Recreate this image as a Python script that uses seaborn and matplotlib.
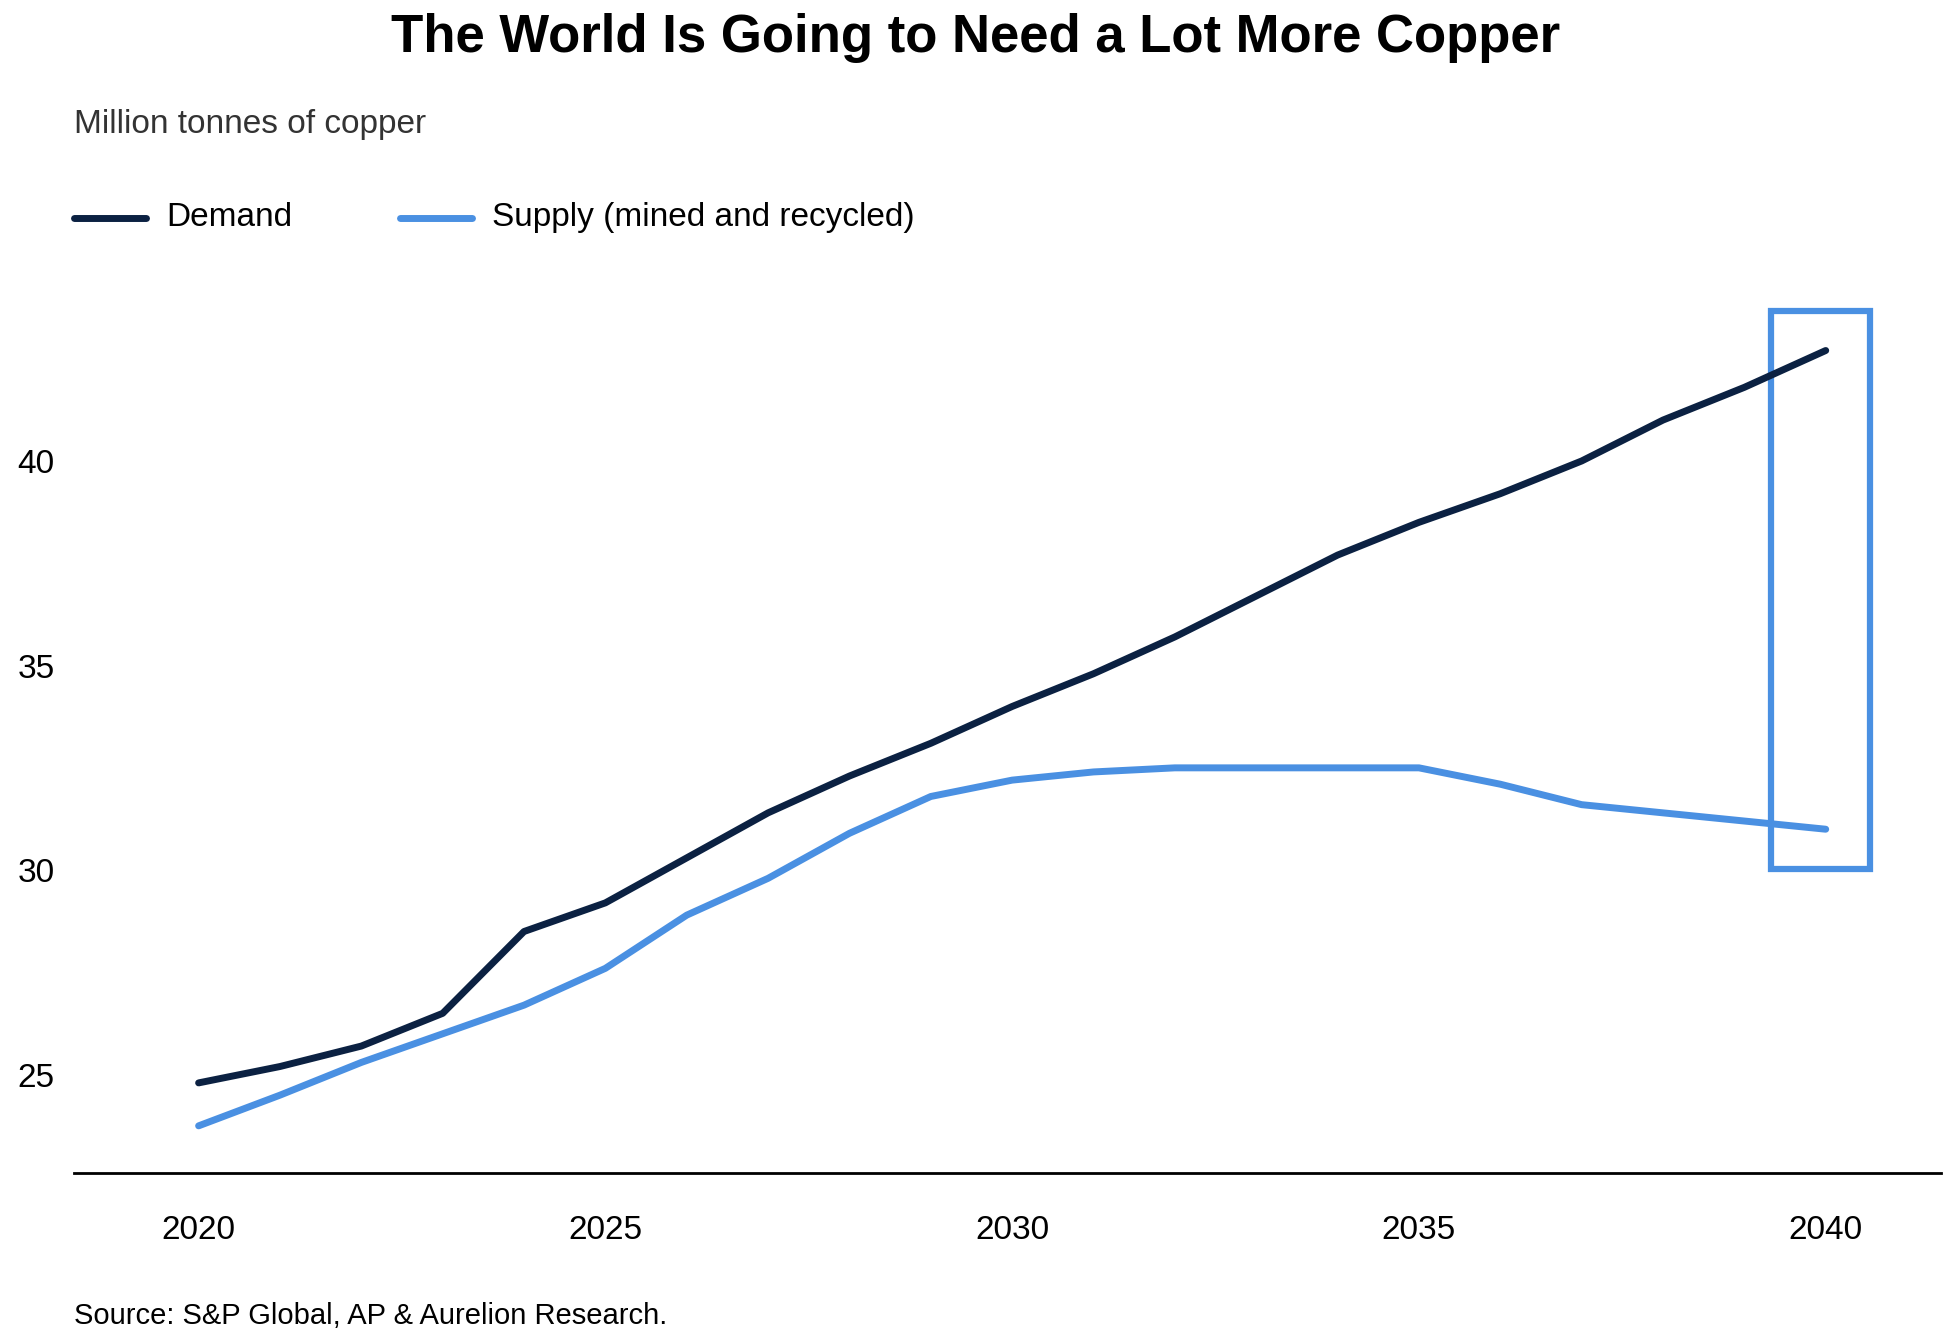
import pandas as pd
import seaborn as sns
import matplotlib.pyplot as plt
from matplotlib.patches import Rectangle

years = list(range(2020, 2041))
demand = [24.8, 25.2, 25.7, 26.5, 28.5, 29.2, 30.3, 31.4, 32.3, 33.1, 34.0,
          34.8, 35.7, 36.7, 37.7, 38.5, 39.2, 40.0, 41.0, 41.8, 42.7]
supply = [23.75, 24.5, 25.3, 26.0, 26.7, 27.6, 28.9, 29.8, 30.9, 31.8, 32.2,
          32.4, 32.5, 32.5, 32.5, 32.5, 32.1, 31.6, 31.4, 31.2, 31.0]

df = pd.DataFrame({"year": years * 2,
                   "value": demand + supply,
                   "series": ["Demand"] * 21 + ["Supply (mined and recycled)"] * 21})

sns.set_style("white")
plt.rcParams['font.family'] = ['Liberation Sans', 'DejaVu Sans']
plt.rcParams['text.color'] = 'black'
plt.rcParams['xtick.color'] = 'black'
plt.rcParams['ytick.color'] = 'black'

fig = plt.figure(figsize=(19.51, 13.44), dpi=100)
ax = fig.add_axes([0.038, 0.127, 0.957, 0.66])
sns.lineplot(data=df, x="year", y="value", hue="series",
             palette=["#0b2142", "#4a90e2"], linewidth=5, ax=ax, legend=False)

ax.add_patch(Rectangle((2039.33, 30.03), 1.22, 13.63, fill=False,
                       edgecolor="#4a90e2", linewidth=4.5))

ax.set_xlim(2018.47, 2041.42)
ax.set_ylim(22.59, 44.27)
ax.set_xticks([2020, 2025, 2030, 2035, 2040])
ax.set_yticks([25, 30, 35, 40])
ax.set_xlabel("")
ax.set_ylabel("")
for s in ["top", "right", "left"]:
    ax.spines[s].set_visible(False)
ax.spines["bottom"].set_linewidth(2)
ax.spines["bottom"].set_color("black")
ax.tick_params(axis="x", length=0, pad=30, labelsize=24)
ax.tick_params(axis="y", length=0, pad=14, labelsize=24)

fig.text(0.5, 0.972, "The World Is Going to Need a Lot More Copper",
         ha="center", va="center", fontsize=38, fontweight="bold")
fig.text(0.038, 0.907, "Million tonnes of copper", ha="left", va="center",
         fontsize=24, color="#333333")
fig.text(0.038, 0.021, "Source: S&P Global, AP & Aurelion Research.",
         ha="left", va="center", fontsize=21)

# legend drawn manually in figure coords
ly = 0.838
fig.add_artist(plt.Line2D([0.038, 0.075], [ly, ly], color="#0b2142", lw=5,
                          transform=fig.transFigure))
fig.text(0.085, ly, "Demand", va="center", fontsize=24)
fig.add_artist(plt.Line2D([0.205, 0.242], [ly, ly], color="#4a90e2", lw=5,
                          transform=fig.transFigure))
fig.text(0.252, ly, "Supply (mined and recycled)", va="center", fontsize=24)

fig.savefig("out.png", dpi=100)
